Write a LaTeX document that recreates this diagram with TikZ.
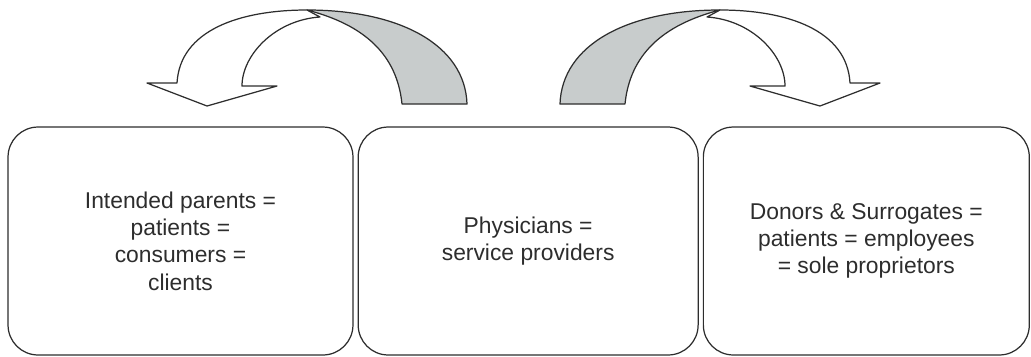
\documentclass[tikz,border=0pt]{standalone}
\usepackage{fontspec}
\setmainfont{Liberation Sans}
\usepackage{tikz}
\usetikzlibrary{positioning}
\usepackage{xcolor}
\definecolor{bandgray}{RGB}{200,204,204}
\definecolor{inkgray}{RGB}{45,45,45}

% one twisted arrow, drawn in pixel units (y down)
\newcommand{\twistarrow}{%
  % grey back of the ribbon
  \filldraw[band] (402,104) -- (467,104) .. controls (465,45) and (400,10) .. (307,10)
      .. controls (365,25) and (397,55) .. (402,104) -- cycle;
  % white front with the head
  \filldraw[head] (307,10) .. controls (240,10) and (180,30) .. (177,83) -- (147,83)
      -- (207,106) -- (277,86) -- (242,86) .. controls (242,55) and (275,20) .. (320,17) -- cycle;
}

\begin{document}
\begin{tikzpicture}[x=0.02cm, y=-0.02cm,
    box/.style={draw=inkgray, line width=0.7pt, rounded corners=0.6cm,
      minimum height=4.56cm, align=center, text=inkgray,
      font=\fontsize{13}{15.5}\selectfont},
    band/.style={draw=inkgray, fill=bandgray, line width=0.7pt, line join=round},
    head/.style={draw=inkgray, fill=white, line width=0.7pt, line join=round}]
    \useasboundingbox (0,0) rectangle (1031,356);
    % the three parties
    \node[box, minimum width=6.9cm] (parents) at (180.5,241)
        {Intended parents =\\ patients =\\ consumers =\\ clients};
    \node[box, minimum width=6.8cm, right=0.08cm of parents] (physicians)
        {Physicians =\\ service providers};
    \node[box, minimum width=6.52cm, right=0.08cm of physicians] (donors)
        {Donors \& Surrogates =\\ patients = employees\\ = sole proprietors};
    % arrow to the left
    \twistarrow
    % arrow to the right, mirrored
    \begin{scope}[shift={(1027,0)}, xscale=-1]
        \twistarrow
    \end{scope}
\end{tikzpicture}
\end{document}
